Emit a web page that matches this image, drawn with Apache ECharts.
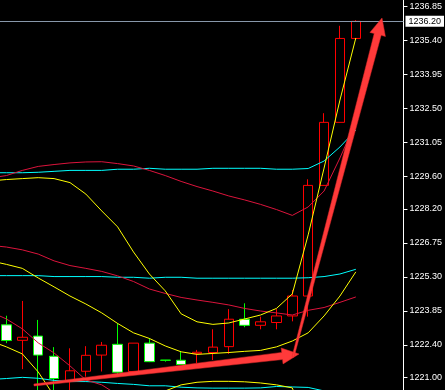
<!DOCTYPE html>
<html><head><meta charset="utf-8">
<script src="https://cdn.jsdelivr.net/npm/echarts@6/dist/echarts.min.js"></script>
<style>html,body{margin:0;padding:0;background:#000;}#c{width:445px;height:390px;}</style>
</head><body><div id="c"></div>
<script>
// bar numbers: 0 is the lead-in bar just left of the view, 1..23 are the visible candles
const barIndex = [0,1,2,3,4,5,6,7,8,9,10,11,12,13,14,15,16,17,18,19,20,21,22,23];

// candles 1..23: [open, close, low, high]
const candles = [
  [1223.25,1222.58,1222.47,1223.64],
  [1222.59,1222.72,1221.36,1224.27],
  [1222.77,1221.96,1220.30,1223.46],
  [1221.91,1220.96,1220.20,1222.30],
  [1220.86,1221.29,1220.30,1222.25],
  [1221.27,1221.95,1221.04,1222.34],
  [1221.96,1222.38,1221.26,1222.52],
  [1222.42,1221.23,1221.10,1223.32],
  [1221.26,1222.47,1221.20,1222.47],
  [1222.47,1221.68,1221.66,1222.68],
  [1221.745,1221.74,1221.68,1221.75],
  [1221.74,1221.56,1221.56,1222.11],
  [1222.02,1222.08,1221.61,1222.18],
  [1222.07,1222.30,1221.75,1223.06],
  [1222.32,1223.49,1222.01,1223.92],
  [1223.49,1223.23,1223.15,1224.17],
  [1223.23,1223.38,1223.06,1223.60],
  [1223.35,1223.63,1223.06,1223.92],
  [1223.63,1224.48,1223.40,1224.74],
  [1224.48,1229.20,1223.60,1229.46],
  [1229.20,1231.89,1229.20,1232.28],
  [1231.89,1235.47,1231.89,1236.01],
  [1235.47,1236.20,1235.47,1236.25]
];

// yellow bands (fast), bars 0..23
const yellowUpper = [1229.39,1229.45,1229.49,1229.53,1229.49,1229.32,1228.83,1228.11,1227.43,1226.36,1225.42,1224.70,1223.72,1223.38,1223.27,1223.33,1223.50,1223.67,1223.95,1224.57,1227.09,1229.94,1232.84,1235.49];
const yellowMid   = [1225.98,1225.83,1225.66,1225.25,1224.87,1224.48,1224.14,1223.76,1223.31,1222.91,1222.67,1222.35,1222.10,1221.99,1222.03,1222.07,1222.12,1222.16,1222.31,1222.56,1222.91,1223.63,1224.48,1225.51];
const yellowLower = [1222.56,1222.31,1222.01,1221.24,1220.22,1219.62,1219.45,1219.41,1219.20,1219.45,1220.01,1220.43,1220.69,1220.80,1220.84,1220.84,1220.82,1220.77,1220.69,1220.56,1218.73,1217.32,1216.13,1215.53];
// crimson bands (medium)
const redUpper = [1229.52,1229.62,1229.84,1230.01,1230.09,1230.16,1230.20,1230.21,1230.13,1230.03,1229.84,1229.62,1229.37,1229.15,1228.96,1228.75,1228.58,1228.39,1228.17,1227.92,1228.28,1228.96,1230.37,1231.90];
const redMid   = [1226.64,1226.57,1226.45,1226.27,1225.98,1225.78,1225.66,1225.53,1225.34,1225.10,1224.78,1224.59,1224.42,1224.31,1224.21,1224.10,1223.95,1223.84,1223.76,1223.67,1223.87,1223.99,1224.21,1224.44];
const redLower = [1223.80,1223.50,1223.08,1222.48,1222.05,1221.50,1220.90,1220.69,1220.26,1220.18,1219.75,1219.58,1219.49,1219.49,1219.45,1219.45,1219.32,1219.32,1219.37,1219.41,1219.45,1219.03,1218.04,1217.06];
// cyan bands (slow)
const cyanUpper = [1229.74,1229.74,1229.74,1229.76,1229.80,1229.84,1229.84,1229.84,1229.89,1229.89,1229.93,1229.89,1229.89,1229.89,1229.93,1229.93,1229.93,1229.93,1229.89,1229.89,1229.92,1230.24,1230.84,1231.56];
const cyanMid   = [1225.35,1225.35,1225.35,1225.35,1225.31,1225.31,1225.31,1225.31,1225.28,1225.28,1225.24,1225.28,1225.28,1225.24,1225.24,1225.24,1225.24,1225.24,1225.24,1225.24,1225.26,1225.31,1225.42,1225.62];
const cyanLower = [1220.92,1220.96,1221.01,1220.97,1220.88,1220.83,1220.83,1220.80,1220.75,1220.71,1220.65,1220.65,1220.59,1220.56,1220.55,1220.55,1220.55,1220.56,1220.62,1220.60,1220.58,1220.43,1220.05,1219.71];

const tickLabels = ['1236.85','1235.40','1233.95','1232.50','1231.05','1229.60','1228.20','1226.75','1225.30','1223.85','1222.40','1221.00'];
const currentPrice = 1236.20;

const tickVals = tickLabels.map(Number);
const chart = echarts.init(document.getElementById('c'), null, {renderer:'canvas'});

function pairs(arr){ return arr.map((v,i)=>[barIndex[i], v]); }
function lineSeries(name, data, color){
  return {name, type:'line', data:pairs(data), showSymbol:false, symbol:'none', smooth:false, z:3,
    lineStyle:{color, width:1}, itemStyle:{color}, animation:false, silent:true};
}

// annotation arrows (pixel-space decoration): tail -> tip
const arrows = [
  {tail:[34,385], tip:[299,354]},
  {tail:[293,357], tip:[382,18]}
];
function arrowPoly(a){
  const [tx,ty]=a.tail,[px,py]=a.tip;
  const dx=px-tx, dy=py-ty, len=Math.hypot(dx,dy);
  const ux=dx/len, uy=dy/len, nx=-uy, ny=ux;
  const L=17, hw=8, wh=3.6, wt=1;
  const bx=px-ux*L, by=py-uy*L;
  return [[tx+nx*wt,ty+ny*wt],[bx+nx*wh,by+ny*wh],[bx+nx*hw,by+ny*hw],[px,py],[bx-nx*hw,by-ny*hw],[bx-nx*wh,by-ny*wh],[tx-nx*wt,ty-ny*wt]];
}

chart.setOption({
  backgroundColor:'#000000',
  animation:false,
  grid:{left:0, right:38.5, top:0, bottom:0, containLabel:false},
  xAxis:{type:'value', min:0.59375, max:26, show:false, splitLine:{show:false}},
  yAxis:{
    type:'value', position:'right', min:1220.47, max:1237.11, scale:true,
    splitLine:{show:false},
    axisLine:{show:true, lineStyle:{color:'#ffffff', width:1}},
    axisTick:{show:true, customValues:tickVals, length:4, inside:false, lineStyle:{color:'#ffffff'}},
    axisLabel:{customValues:tickVals, formatter:v=>v.toFixed(2), color:'#ffffff', fontSize:9,
      fontFamily:'Liberation Sans', margin:6}
  },
  series:[
    {type:'candlestick', data:candles.map((c,i)=>[barIndex[i+1]].concat(c)),
      encode:{x:0, y:[1,2,3,4]}, barWidth:10, z:2, silent:true, clip:false,
      itemStyle:{color:'#000000', color0:'#ffffff', borderColor:'#ff0000', borderColor0:'#00ff00', borderWidth:1},
      markLine:{symbol:'none', silent:true, animation:false,
        lineStyle:{color:'#8898aa', width:1, type:'solid'},
        label:{position:'end', formatter:currentPrice.toFixed(2), color:'#000', backgroundColor:'#ffffff',
          fontSize:9, fontFamily:'Liberation Sans', padding:[1,3,1,3], distance:2},
        data:[{yAxis:currentPrice}]}
    },
    lineSeries('cyanUpper', cyanUpper, '#00ffff'),
    lineSeries('cyanMid', cyanMid, '#00ffff'),
    lineSeries('cyanLower', cyanLower, '#00ffff'),
    lineSeries('redUpper', redUpper, '#dc143c'),
    lineSeries('redMid', redMid, '#dc143c'),
    lineSeries('redLower', redLower, '#dc143c'),
    lineSeries('yellowUpper', yellowUpper, '#ffff00'),
    lineSeries('yellowMid', yellowMid, '#ffff00'),
    lineSeries('yellowLower', yellowLower, '#ffff00')
  ],
  graphic: arrows.map(a=>({type:'polygon', z:100, silent:true,
    shape:{points:arrowPoly(a)}, style:{fill:'#ff3a3a', stroke:'#e02828', lineWidth:0.5}}))
});
</script></body></html>
